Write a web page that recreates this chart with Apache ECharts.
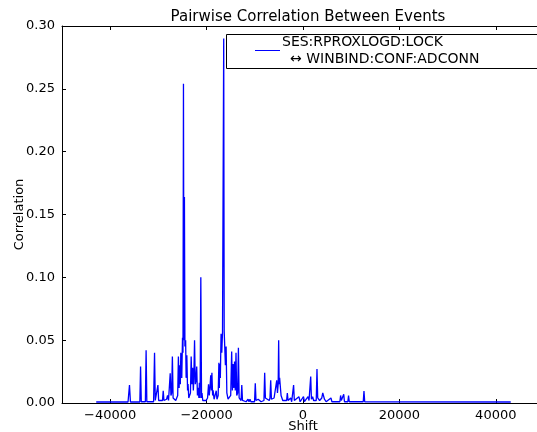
<!DOCTYPE html>
<html>
<head>
<meta charset="utf-8">
<script src="https://cdn.jsdelivr.net/npm/echarts@6/dist/echarts.min.js"></script>
<style>html,body{margin:0;padding:0;background:#fff}#c{width:537px;height:432px}</style>
</head>
<body>
<div id="c"></div>
<script>
const title = 'Pairwise Correlation Between Events';
const seriesName = 'SES:RPROXLOGD:LOCK';
const seriesName2 = '\u2194 WINBIND:CONF:ADCONN';
const xTicks = [-40000, -20000, 0, 20000, 40000];
const yTicks = [0, 0.05, 0.10, 0.15, 0.20, 0.25, 0.30];
const shifts = [
-42900,-36300,-36000,-35800,-34500,-34350,-34200,-33850,-33700,-33550,-32700,-32550,-32400,-31000,-30800,-30650,-30250,-30100,-29950,-29150,-29000,-28850,-28300,-28100,-27900,-27700,-27550,-27400,-27250,-27100,-26950,-26700,-26400,-26000,-25850,-25700,-25600,-25450,-25350,-25150,-25000,-24900,-24800,-24700,-24600,-24500,-24350,-24250,-24100,-23950,-23850,-23700,-23350,-23200,-23050,-22900,-22750,-22650,-22500,-22350,-22200,-22050,-21900,-21750,-21600,-21500,-21350,-21200,-21050,-20950,-20800,-20500,-20100,-19800,-19600,-19450,-19300,-19150,-19000,-18900,-18750,-18650,-18450,-18150,-18000,-17850,-17600,-17450,-17350,-17300,-17150,-17000,-16850,-16700,-16550,-16450,-16350,-16250,-16100,-15950,-15800,-15550,-15250,-15000,-14800,-14650,-14500,-14350,-14200,-14050,-13900,-13750,-13550,-13400,-13250,-13050,-12850,-12700,-12550,-12200,-11800,-11400,-11200,-11000,-10800,-10050,-9900,-9750,-9300,-8700,-8100,-7950,-7800,-7450,-7000,-6850,-6700,-6550,-6000,-5650,-5450,-5300,-5150,-5050,-4950,-4850,-4700,-4550,-4350,-4200,-3400,-3250,-3100,-2550,-2350,-2100,-1950,-1800,-850,-600,100,300,1050,1250,1450,1600,1750,2000,2200,2750,2900,3050,3250,3450,3900,4100,4250,4450,4600,4800,5800,6000,7650,7800,7950,8300,8450,8600,9300,9450,9600,12500,12650,12800,43100
];
const corr = [
0.0008,0.0008,0.0143,0.0008,0.0008,0.002,0.0008,0.0008,0.029,0.001,0.001,0.042,0.001,0.001,0.040,0.002,0.002,0.0143,0.002,0.002,0.0098,0.002,0.003,0.006,0.002,0.003,0.0236,0.006,0.008,0.037,0.004,0.005,0.002,0.006,0.037,0.012,0.030,0.015,0.040,0.020,0.052,0.040,0.254,0.050,0.164,0.045,0.050,0.020,0.038,0.010,0.015,0.004,0.008,0.037,0.015,0.028,0.010,0.020,0.050,0.015,0.018,0.029,0.006,0.012,0.004,0.016,0.004,0.100,0.004,0.008,0.002,0.003,0.002,0.004,0.0148,0.006,0.012,0.022,0.010,0.024,0.006,0.010,0.003,0.003,0.0098,0.003,0.006,0.032,0.012,0.031,0.020,0.055,0.040,0.056,0.057,0.290,0.057,0.057,0.030,0.045,0.008,0.003,0.003,0.006,0.041,0.010,0.031,0.012,0.033,0.010,0.040,0.006,0.008,0.044,0.004,0.005,0.002,0.0143,0.002,0.002,0.001,0.003,0.001,0.003,0.001,0.001,0.0156,0.002,0.003,0.001,0.002,0.024,0.004,0.005,0.002,0.004,0.018,0.003,0.004,0.003,0.018,0.008,0.015,0.050,0.015,0.020,0.019,0.006,0.007,0.002,0.002,0.008,0.002,0.004,0.001,0.002,0.0143,0.002,0.005,0.001,0.005,0.001,0.005,0.002,0.003,0.021,0.003,0.005,0.002,0.002,0.027,0.004,0.005,0.002,0.004,0.008,0.007,0.003,0.004,0.001,0.004,0.001,0.001,0.006,0.002,0.002,0.007,0.001,0.001,0.006,0.001,0.001,0.0095,0.001,0.0008
];
const data = shifts.map((s, i) => [s, corr[i]]);
const FONT = 'DejaVu Sans';
const fmtX = v => (v < 0 ? '\u2212' + Math.abs(v) : String(v));
const chart = echarts.init(document.getElementById('c'), null, {renderer: 'canvas'});
const axisCommon = {
  type: 'value', min: -50000, max: 50000,
  axisLine: {show: true, onZero: false, lineStyle: {color: '#000', width: 1}},
  splitLine: {show: false},
  axisTick: {show: true, inside: true, length: 4, lineStyle: {color: '#000'}, customValues: xTicks}
};
chart.setOption({
  animation: false,
  backgroundColor: '#fff',
  title: {text: title, left: 303, top: 5, textAlign: 'center',
    textStyle: {fontFamily: FONT, fontSize: 15, fontWeight: 'normal', color: '#000'}},
  grid: {left: 62, top: 26, right: -7, bottom: 29, containLabel: false, outerBoundsMode: 'none'},
  xAxis: [
    Object.assign({}, axisCommon, {
      position: 'bottom',
      name: 'Shift', nameLocation: 'middle', nameGap: 17, nameMoveOverlap: false,
      nameTextStyle: {fontFamily: FONT, fontSize: 13, color: '#000', verticalAlign: 'top'},
      axisLabel: {show: true, customValues: xTicks, formatter: fmtX, margin: 6,
        fontFamily: FONT, fontSize: 13, color: '#000'}
    }),
    Object.assign({}, axisCommon, {position: 'top', axisLabel: {show: false}})
  ],
  yAxis: {
    type: 'value', min: 0, max: 0.3, interval: 0.05,
    name: 'Correlation', nameLocation: 'middle', nameGap: 36, nameMoveOverlap: false,
    nameTextStyle: {fontFamily: FONT, fontSize: 13, color: '#000'},
    axisLine: {show: true, onZero: false, lineStyle: {color: '#000', width: 1}},
    splitLine: {show: false},
    axisTick: {show: true, inside: true, length: 4, lineStyle: {color: '#000'}},
    axisLabel: {formatter: v => v.toFixed(2), margin: 7, fontFamily: FONT, fontSize: 13, color: '#000'}
  },
  series: [{
    name: seriesName, type: 'line', xAxisIndex: 0, data: data,
    showSymbol: false, symbol: 'none',
    lineStyle: {color: '#0000ff', width: 1.3},
    itemStyle: {color: '#0000ff'}
  }],
  graphic: [
    {type: 'rect', shape: {x: 226.5, y: 34.5, width: 330, height: 34},
     style: {fill: '#fff', stroke: '#000', lineWidth: 1}, z: 100},
    {type: 'line', shape: {x1: 255, y1: 50.5, x2: 280, y2: 50.5},
     style: {stroke: '#0000ff', lineWidth: 1}, z: 101},
    {type: 'text', x: 282, y: 42, z: 101,
     style: {text: seriesName, fontFamily: FONT, fontSize: 14, fill: '#000', textVerticalAlign: 'middle'}},
    {type: 'text', x: 290, y: 59, z: 101,
     style: {text: seriesName2, fontFamily: FONT, fontSize: 14, fill: '#000', textVerticalAlign: 'middle'}}
  ]
});
</script>
</body>
</html>
